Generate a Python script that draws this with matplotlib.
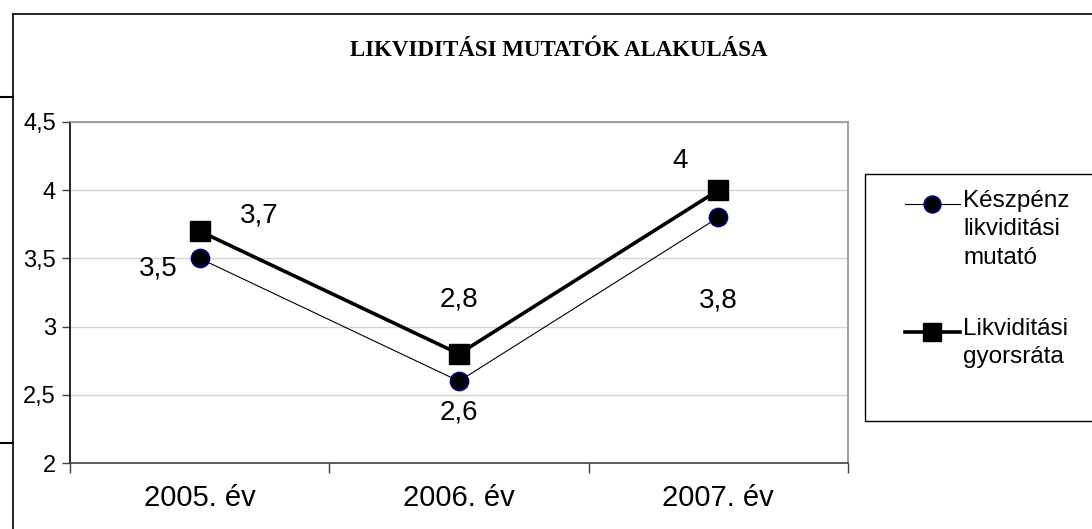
import matplotlib
matplotlib.use('Agg')
import matplotlib.pyplot as plt
from matplotlib.lines import Line2D
from matplotlib.patches import Rectangle

plt.rcParams['font.family'] = ['Liberation Sans', 'DejaVu Sans']

# data
years = ['2005. év', '2006. év', '2007. év']
keszpenz = [3.5, 2.6, 3.8]
gyorsrata = [3.7, 2.8, 4.0]
ytick_vals = [2, 2.5, 3, 3.5, 4, 4.5]
label_keszpenz = 'Készpénz\nlikviditási\nmutató'
label_gyors = 'Likviditási\ngyorsráta'
title = 'LIKVIDITÁSI MUTATÓK ALAKULÁSA'

def hu(v):
    return ('%g' % v).replace('.', ',')

W, H = 1092, 529
fig = plt.figure(figsize=(W / 100, H / 100), dpi=100)
ax = fig.add_axes([70/W, 1-463/H, (848-70)/W, (463-122)/H])

x = list(range(len(years)))
s1 = dict(color='black', lw=0.8, marker='o', ms=13, mfc='black', mec='#000080', mew=1.2)
s2 = dict(color='black', lw=2.6, marker='s', ms=14, mfc='black', mec='black')
ax.plot(x, keszpenz, zorder=3, **s1)
ax.plot(x, gyorsrata, zorder=4, **s2)

# data labels (offsets in pixels, Excel-like placement)
off1 = [(-41, -10), (0, -31), (0, -83)]
off2 = [(60, 16), (0, 54), (-38, 29)]
for i in x:
    ax.annotate(hu(keszpenz[i]), (x[i], keszpenz[i]), xytext=off1[i],
                textcoords='offset pixels', ha='center', va='center', fontsize=20)
    ax.annotate(hu(gyorsrata[i]), (x[i], gyorsrata[i]), xytext=off2[i],
                textcoords='offset pixels', ha='center', va='center', fontsize=20)

ax.set_xlim(-0.5, len(years) - 0.5)
ax.set_ylim(2, 4.5)
ax.set_yticks(ytick_vals)
ax.set_yticklabels([hu(v) for v in ytick_vals])
ax.yaxis.grid(True, color='#d4d4d4', lw=1)
ax.set_axisbelow(True)

# category boundaries as major ticks, labels on minor ticks
ax.set_xticks([i - 0.5 for i in range(len(years) + 1)])
ax.set_xticklabels([])
ax.set_xticks(x, minor=True)
ax.set_xticklabels(years, minor=True)
ax.tick_params(axis='x', which='major', length=7, width=1, direction='out', color='#404040')
ax.tick_params(axis='x', which='minor', length=0, pad=15, labelsize=21)
ax.tick_params(axis='y', length=6, width=1, direction='out', pad=4, labelsize=17, color='#404040')

ax.spines['left'].set_color('black')
ax.spines['bottom'].set_color('#404040')
ax.spines['top'].set_color('#909090')
ax.spines['right'].set_color('#909090')
for s in ax.spines.values():
    s.set_linewidth(1.2)

# title
fig.text(559/W, 1-51/H, title, ha='center', va='center',
         family='Liberation Serif', weight='bold', fontsize=16.5)

# legend box, drawn by hand to keep the Excel look
fig.patches.append(Rectangle((865/W, 1-421/H), 240/W, 247/H,
                             transform=fig.transFigure, fill=False,
                             edgecolor='black', lw=1))
for y0, lab, st in [(204, label_keszpenz, s1), (332, label_gyors, s2)]:
    fig.add_artist(Line2D([905/W, 960/W], [1-y0/H, 1-y0/H], lw=st['lw'], color='black'))
    fig.add_artist(Line2D([932/W], [1-y0/H], lw=0, marker=st['marker'], ms=st['ms'] - 1,
                          mfc=st['mfc'], mec=st['mec'], mew=st.get('mew', 1)))
    fig.text(963/W, 1-(y0-14)/H, lab, ha='left', va='top', fontsize=17.5, linespacing=1.38)

# outer chart frame and stray marks at the left edge
fig.add_artist(Line2D([13/W, 13/W], [0, 1-14/H], color='black', lw=1.2))
fig.add_artist(Line2D([13/W, 1], [1-14/H, 1-14/H], color='black', lw=1.2))
fig.add_artist(Line2D([0, 13/W], [1-97/H, 1-97/H], color='black', lw=1.5))
fig.add_artist(Line2D([0, 13/W], [1-443/H, 1-443/H], color='black', lw=1.5))

fig.savefig('out.png', dpi=100)
